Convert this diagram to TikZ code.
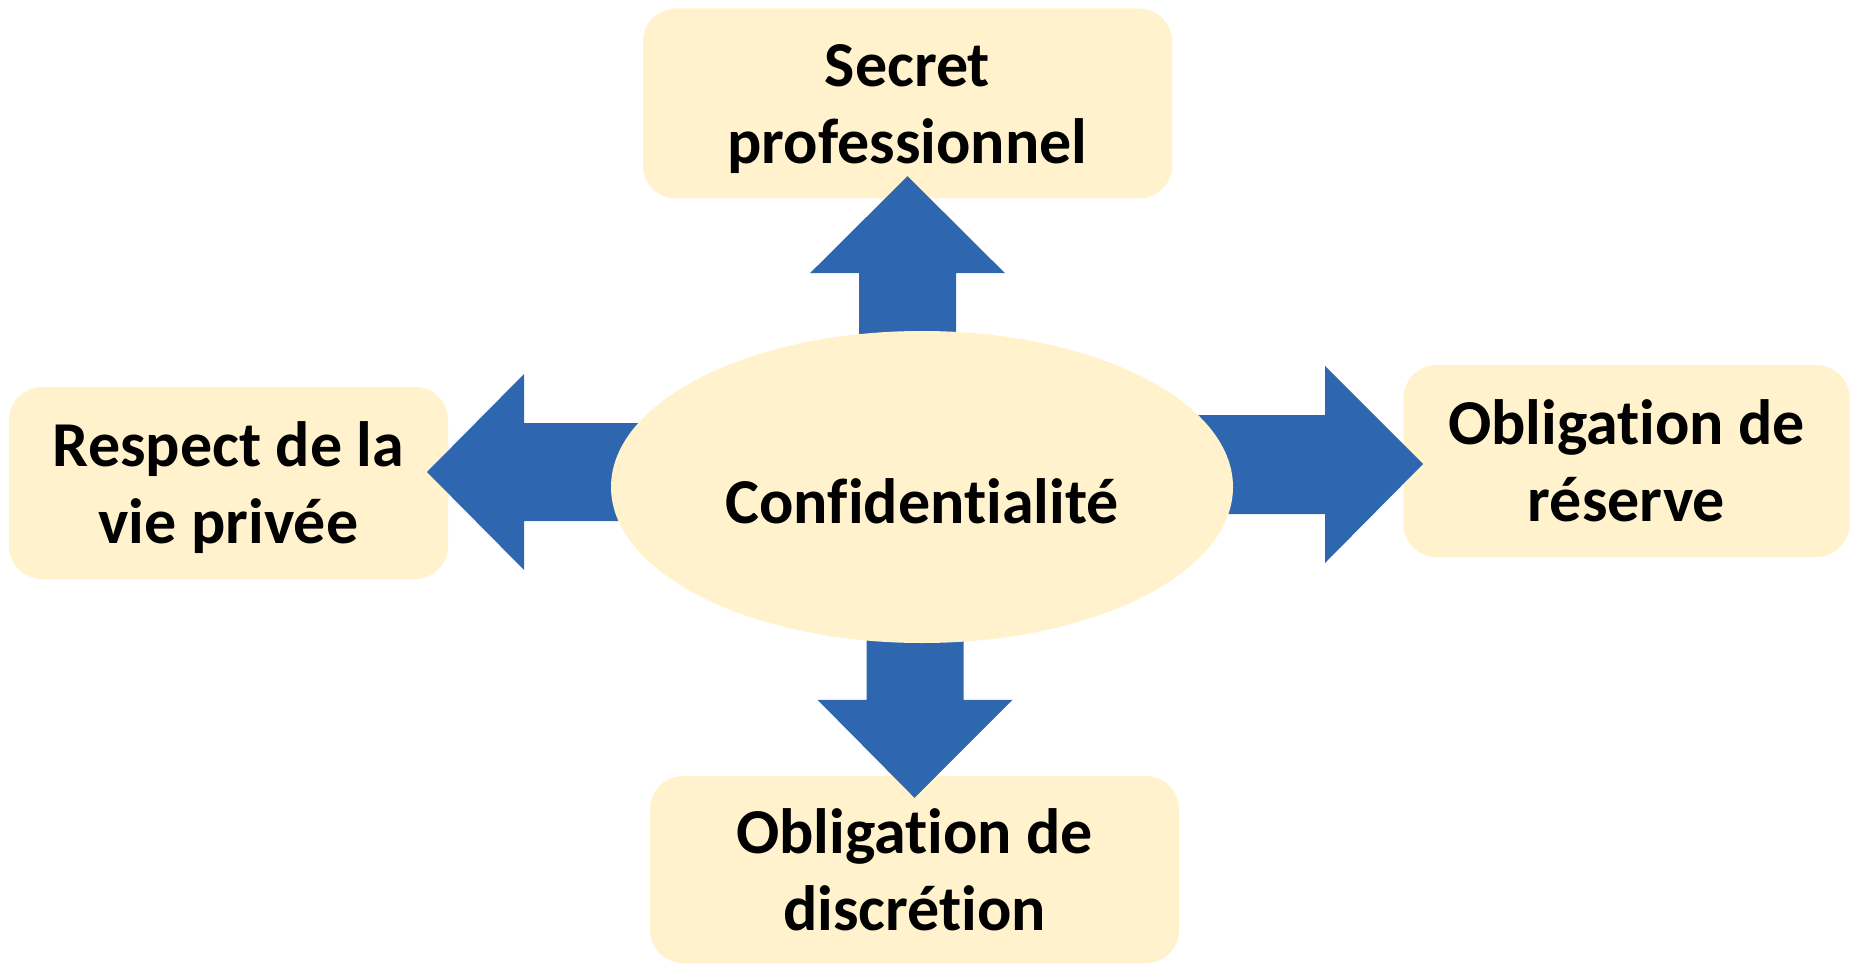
\documentclass[tikz,border=0pt]{standalone}
\usepackage{fontspec}
\setmainfont{Carlito}[Ligatures=NoCommon]
\usetikzlibrary{shapes.geometric}
\definecolor{boxfill}{HTML}{FFF2CC}
\definecolor{arrowblue}{HTML}{2E67AF}
% two centred lines with a fixed ascent and descent, so every box centres alike
\newcommand{\twoline}[2]{\rule{0pt}{60pt}#1\\#2\rule[-16pt]{0pt}{16pt}}
\begin{document}
\begin{tikzpicture}[x=1pt,y=-1pt,
  labelfont/.style={font=\fontsize{64}{77}\selectfont\bfseries},
  topic/.style={rectangle, rounded corners=33pt, fill=boxfill, inner sep=0pt,
    align=center, labelfont},
  core/.style={ellipse, fill=boxfill, inner sep=0pt, minimum width=622pt,
    minimum height=312pt, text height=72pt, text depth=0pt, labelfont},
  blockarrow/.style={fill=arrowblue}]
\useasboundingbox (0,0) rectangle (1854,965);

% the four themes around the central idea
\node[topic, minimum width=529pt, minimum height=190pt] (secret) at (907.5,103.5)
  {\twoline{Secret}{professionnel}};
\node[topic, minimum width=439pt, minimum height=192pt] (vie) at (228.5,483)
  {\twoline{Respect de la}{vie privée}};
\node[topic, minimum width=446pt, minimum height=192pt] (reserve) at (1626.5,461)
  {\twoline{Obligation de}{réserve}};
\node[topic, minimum width=529pt, minimum height=187pt] (discretion) at (914.5,869.5)
  {\twoline{Obligation de}{discrétion}};

% block arrow tips
\coordinate (upTip) at ([yshift=22.5pt]secret.south);
\coordinate (downTip) at ([yshift=-22pt]discretion.north);
\coordinate (leftTip) at (427,472);
\coordinate (rightTip) at (1423,464);

% block arrows leaving the central ellipse
\fill[blockarrow] (upTip) -- ++(97.5,97) -- ++(-49,0) -- ++(0,110) -- ++(-97,0)
  -- ++(0,-110) -- ++(-49,0) -- cycle;
\fill[blockarrow] (downTip) -- ++(98,-98) -- ++(-49,0) -- ++(0,-110) -- ++(-97,0)
  -- ++(0,110) -- ++(-49,0) -- cycle;
\fill[blockarrow] (leftTip) -- ++(97,-98) -- ++(0,49) -- ++(170,0) -- ++(0,98)
  -- ++(-170,0) -- ++(0,49) -- cycle;
\fill[blockarrow] (rightTip) -- ++(-98,-98) -- ++(0,49) -- ++(-170,0) -- ++(0,99)
  -- ++(170,0) -- ++(0,49) -- cycle;

% central idea
\node[core] (conf) at (922,487) {Confidentialité};
\end{tikzpicture}
\end{document}
